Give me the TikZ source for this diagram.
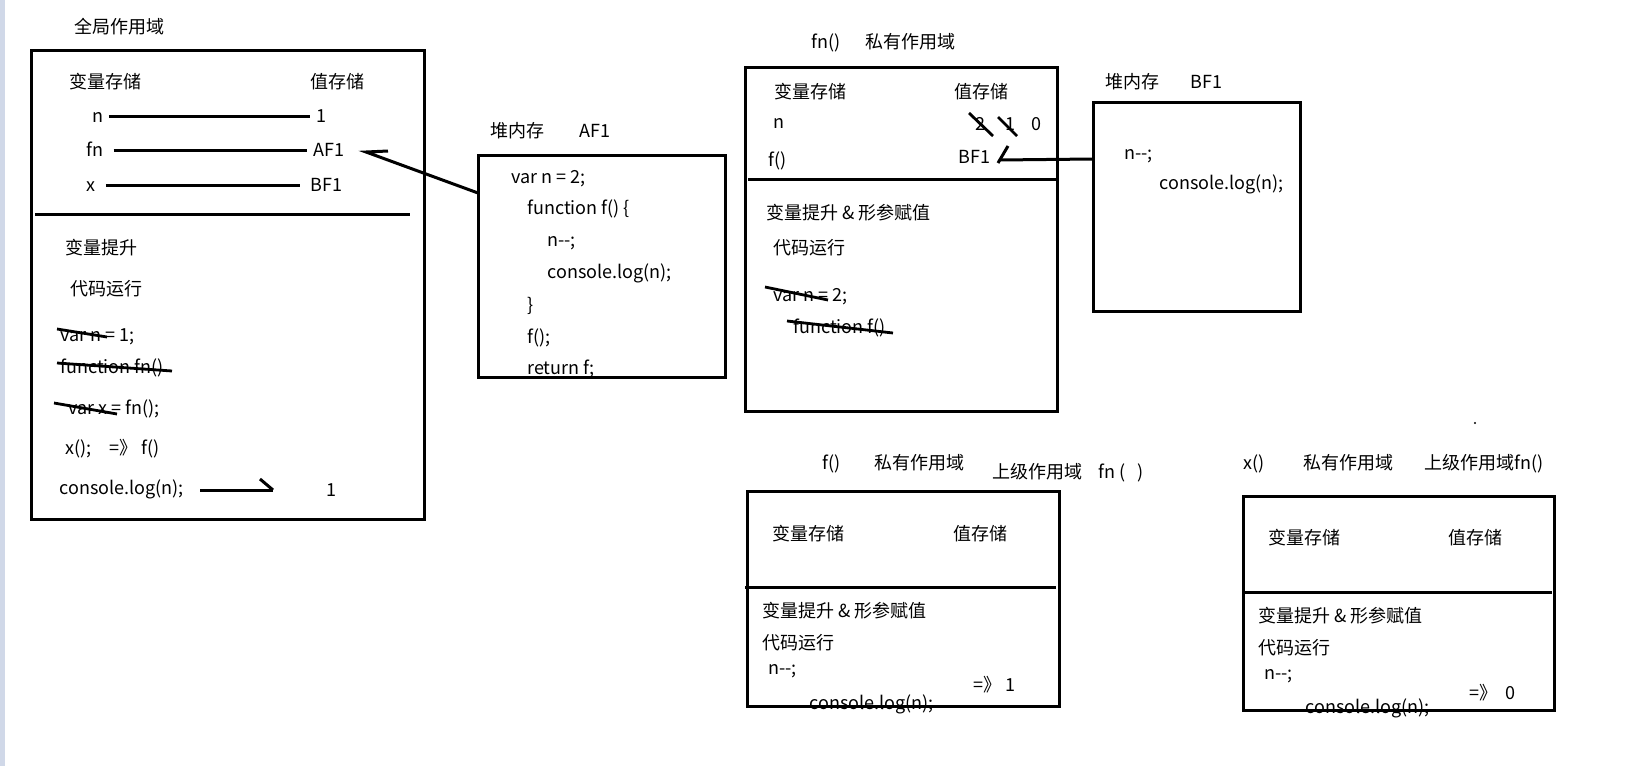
\documentclass[tikz,border=0pt]{standalone}
\usepackage{fontspec}
\setmainfont{Noto Sans CJK SC}
\newcommand\dbldash{-\kern0pt-}
\tikzset{
  txt/.style={anchor=west, inner sep=0pt, font=\fontsize{9pt}{10pt}\selectfont, text height=7.9pt, text depth=1.1pt},
  box/.style={draw, line width=1.5pt, inner sep=0pt, outer sep=0pt},
  ln/.style={line width=1.5pt},
  strike/.style={line width=1.4pt},
}
\begin{document}
\begin{tikzpicture}[x=0.5pt, y=-0.5pt]
\useasboundingbox (0,0) rectangle (1628,766);
\fill[fill={rgb,255:red,208;green,216;blue,232}] (0,0) rectangle (5,766);

% ---------------- global scope ----------------
\node[txt] (tglob) at (74,27) {全局作用域};
\node[txt] (gvar) at (69,82) {变量存储};
\node[txt] (gval) at (310,82) {值存储};
\node[txt] (gn) at (92,116) {n};
\node[txt] (g1) at (316,116) {1};
\node[txt] (gfn) at (86,150) {fn};
\node[txt] (gaf) at (313,150) {AF1};
\node[txt] (gx) at (86,185) {x};
\node[txt] (gbf) at (310,185) {BF1};
\draw[ln, shorten <=2.5pt, shorten >=3pt] (gn) -- (g1);
\draw[ln, shorten <=5pt, shorten >=3pt] (gfn) -- (gaf);
\draw[ln, shorten <=5pt, shorten >=5pt] (gx) -- (gbf);
\node[txt] (ghoist) at (65,248) {变量提升};
\node[txt] (grun) at (70,289) {代码运行};
\node[txt] (gc1) at (60,335) {var n = 1;};
\node[txt] (gc2) at (60,367) {function fn()};
\node[txt] (gc3) at (68,408) {var x = fn();};
\node[txt] (gc4) at (65,448) {x();\quad=》 f()};
\node[txt] (gc5) at (59,488) {console.log(n);};
\node[txt] (gres) at (326,490) {1};
\coordinate (gtip) at (273,490);
\draw[ln] ([xshift=8pt]gc5.east |- gtip) -- (gtip);
\draw[ln] (260,479) -- (gtip);
\draw[strike] (57,329) -- (107,337);
\draw[strike] (57,363) -- (172,371);
\draw[strike] (54,403) -- (117,414);
\node[box, minimum width=196.5pt, minimum height=234.5pt] (gbox) at (227.5,284.5) {};
\draw[ln] (35,214) -- (410,214);

% ---------------- heap AF1 ----------------
\node[txt] (halab) at (490,131) {堆内存};
\node[txt] (haaddr) at (579,131) {AF1};
\node[txt] (ha1) at (511,177) {var n = 2;};
\node[txt] (ha2) at (527,208) {function f() \{};
\node[txt] (ha3) at (547,240) {n\dbldash;};
\node[txt] (ha4) at (547,272) {console.log(n);};
\node[txt] (ha5) at (527,305) {\}};
\node[txt] (ha6) at (527,337) {f();};
\node[txt] (ha7) at (527,368) {return f;};
\fill[white] (480,377) rectangle (724,385);
\node[box, minimum width=123.5pt, minimum height=111pt] (habox) at (601.5,266) {};
\coordinate (atip) at (366,152);
\coordinate (abarb) at (388,151);
\draw[ln] (abarb) -- (atip) -- (habox.west |- 0,193);

% ---------------- fn() private scope ----------------
\node[txt] (fnlab) at (811,42) {fn()};
\node[txt] (fnlab2) at (865,42) {私有作用域};
\node[txt] (fvar) at (774,92) {变量存储};
\node[txt] (fval) at (954,92) {值存储};
\node[txt] (fn_n) at (773,122) {n};
\node[txt] (fv2) at (975,124) {2};
\node[txt] (fv1) at (1005,124) {1};
\node[txt] (fv0) at (1031,124) {0};
\node[txt] (ff) at (768,160) {f()};
\node[txt] (fbf) at (958,157) {BF1};
\draw[strike] (969,113) -- (993,136);
\draw[strike] (998,117) -- (1017,136);
\node[txt] (fhoist) at (766,213) {变量提升 \& 形参赋值};
\node[txt] (frun) at (773,248) {代码运行};
\node[txt] (fc1) at (773,295) {var n = 2;};
\node[txt] (fc2) at (793,327) {function f()};
\draw[strike] (765,287) -- (828,300);
\draw[strike] (787,321) -- (893,333);
\node[box, minimum width=156pt, minimum height=172pt] (fnbox) at (901,239) {};
\draw[ln] (748,179) -- (1057,179);

% ---------------- heap BF1 ----------------
\node[txt] (hblab) at (1105,82) {堆内存};
\node[txt] (hbaddr) at (1190,82) {BF1};
\node[txt] (hb1) at (1124,153) {n\dbldash;};
\node[txt] (hb2) at (1159,183) {console.log(n);};
\node[box, minimum width=103.5pt, minimum height=104.5pt] (hbbox) at (1196.5,206.5) {};
\coordinate (btip) at (999,160);
\draw[ln] (hbbox.west |- 0,159) -- (btip);
\draw[ln] (1008,146) -- (998,163);

% ---------------- f() private scope ----------------
\node[txt] (flab) at (822,463) {f()};
\node[txt] (flab2) at (874,463) {私有作用域};
\node[txt] (flab3) at (992,472) {上级作用域\hspace{8pt}fn (\hspace{6pt})};
\node[txt] (f2var) at (772,534) {变量存储};
\node[txt] (f2val) at (953,534) {值存储};
\node[txt] (f2hoist) at (762,611) {变量提升 \& 形参赋值};
\node[txt] (f2run) at (762,643) {代码运行};
\node[txt] (f2c1) at (768,668) {n\dbldash;};
\node[txt] (f2c2) at (809,703) {console.log(n);};
\node[txt] (f2res) at (973,685) {=》 1};
\node[box, minimum width=156pt, minimum height=107.5pt] (fbox) at (903,598.5) {};
\draw[ln] (745,587) -- (1056,587);

% ---------------- x() private scope ----------------
\fill (1475,423) circle (0.6pt);
\node[txt] (xlab) at (1243,463) {x()};
\node[txt] (xlab2) at (1303,463) {私有作用域};
\node[txt] (xlab3) at (1424,463) {上级作用域fn()};
\node[txt] (xvar) at (1268,538) {变量存储};
\node[txt] (xval) at (1448,538) {值存储};
\node[txt] (xhoist) at (1258,616) {变量提升 \& 形参赋值};
\node[txt] (xrun) at (1258,648) {代码运行};
\node[txt] (xc1) at (1264,673) {n\dbldash;};
\node[txt] (xc2) at (1305,707) {console.log(n);};
\node[txt] (xres) at (1469,693) {=》\ \ 0};
\node[box, minimum width=155.5pt, minimum height=107pt] (xbox) at (1398.5,603) {};
\draw[ln] (1242,592) -- (1552,592);
\end{tikzpicture}
\end{document}
